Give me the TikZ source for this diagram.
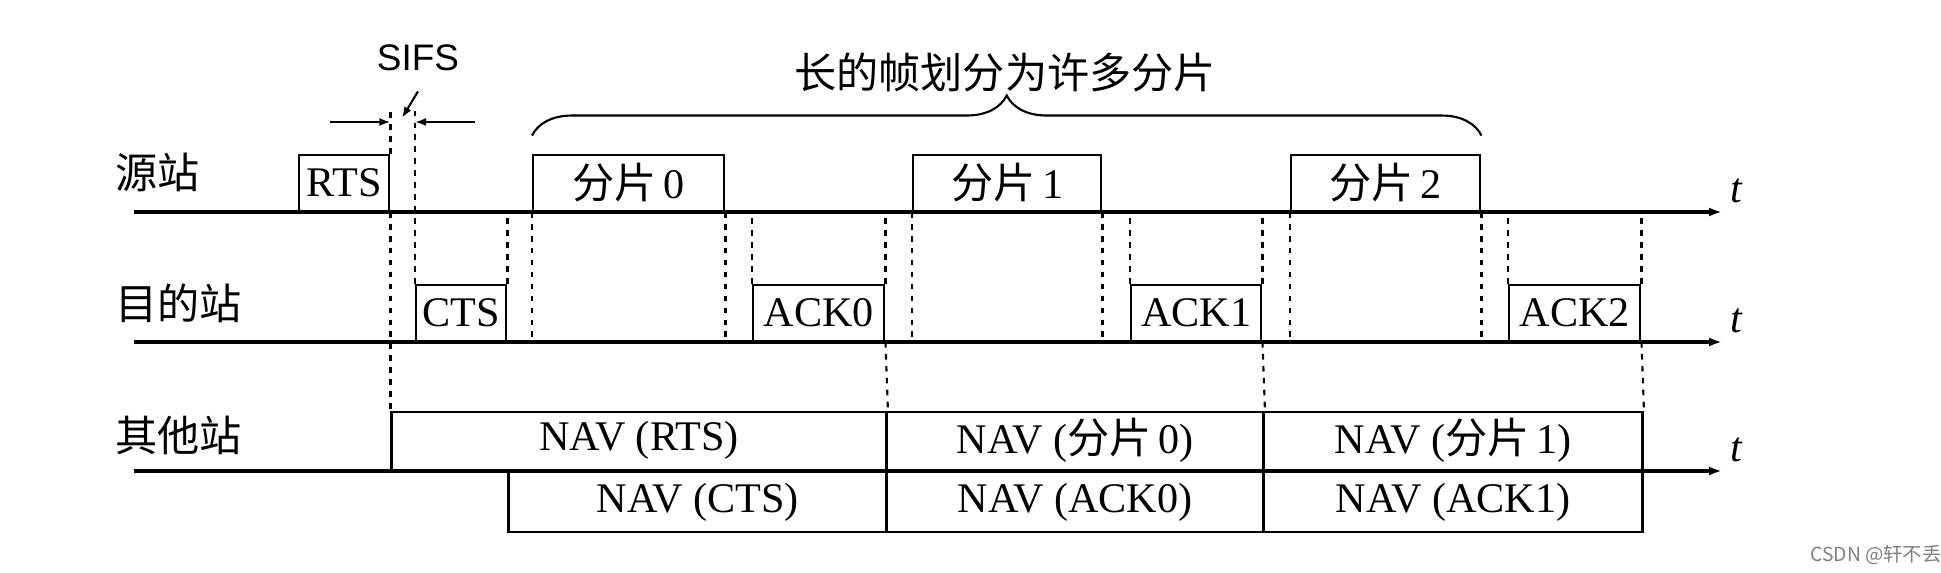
\documentclass[tikz,border=0pt]{standalone}
\usepackage{fontspec}
\setmainfont{Liberation Serif}
\newfontfamily\cjk{Noto Sans CJK SC}
\newfontfamily\sifsfont{Liberation Sans}
\usetikzlibrary{arrows.meta,calc,decorations.pathreplacing}

\tikzset{
	frame/.style={draw, line width=0.7pt, inner sep=0pt, minimum height=0.56cm, anchor=south west},
	navbox/.style={draw, line width=0.7pt, inner sep=0pt, minimum height=0.58cm},
	timeline/.style={line width=1pt, -{Latex[length=1.3mm, width=0.9mm]}},
	guide/.style={dash pattern=on 1.6pt off 1.8pt, line width=0.6pt},
	longbrace/.style={decorate, decoration={brace, amplitude=0.4cm}, line width=0.6pt},
}

\begin{document}
\begin{tikzpicture}[>={Latex[length=1.1mm, width=0.8mm]}, font=\fontsize{12}{14}\selectfont]
	\useasboundingbox (0,0) rectangle (19.41,5.73);

	% time axes
	\coordinate (s0) at (1.34,3.61);
	\coordinate (s1) at (17.22,3.61);
	\coordinate (d0) at (1.34,2.31);
	\coordinate (d1) at (17.22,2.31);
	\coordinate (o0) at (1.34,1.02);
	\coordinate (o1) at (17.22,1.02);

	\draw[timeline] (s0) -- (s1) node[above right, inner sep=2pt] (ts) {\textit{t}};
	\draw[timeline] (d0) -- (d1) node[above right, inner sep=2pt] (td) {\textit{t}};
	\draw[timeline] (o0) -- (o1) node[above right, inner sep=2pt] (to) {\textit{t}};

	\node[anchor=west] (src) at (1.03,4.01) {\cjk 源站};
	\node[anchor=west] (dst) at (1.03,2.70) {\cjk 目的站};
	\node[anchor=west] (oth) at (1.03,1.38) {\cjk 其他站};

	% source station
	\node[frame, minimum width=0.90cm] (rts) at (2.98,3.61) {RTS};
	\node[frame, minimum width=1.91cm] (frag0) at (5.32,3.61) {{\cjk 分片}\,0};
	\node[frame, minimum width=1.88cm] (frag1) at (9.12,3.61) {{\cjk 分片}\,1};
	\node[frame, minimum width=1.89cm] (frag2) at (12.90,3.61) {{\cjk 分片}\,2};

	% destination station
	\node[frame, minimum width=0.90cm] (cts) at (4.15,2.31) {CTS};
	\node[frame, minimum width=1.31cm] (ack0) at (7.52,2.31) {ACK0};
	\node[frame, minimum width=1.30cm] (ack1) at (11.30,2.31) {ACK1};
	\node[frame, minimum width=1.31cm] (ack2) at (15.08,2.31) {ACK2};

	% other stations
	\node[navbox, anchor=south west, minimum width=4.95cm] (navrts) at (rts.south east |- o0) {NAV (RTS)};
	\node[navbox, anchor=south west, minimum width=3.77cm] (navf0) at (ack0.south east |- o0) {NAV ({\cjk 分片}\,0)};
	\node[navbox, anchor=south west, minimum width=3.79cm] (navf1) at (ack1.south east |- o0) {NAV ({\cjk 分片}\,1)};
	\node[navbox, anchor=north west, minimum width=3.78cm, minimum height=0.6cm] (navcts) at (cts.south east |- o0) {NAV (CTS)};
	\node[navbox, anchor=north west, minimum width=3.77cm, minimum height=0.6cm] (navack0) at (ack0.south east |- o0) {NAV (ACK0)};
	\node[navbox, anchor=north west, minimum width=3.79cm, minimum height=0.6cm] (navack1) at (ack1.south east |- o0) {NAV (ACK1)};

	% SIFS
	\coordinate (sifstop) at (0,4.66);
	\coordinate (sifsL) at (3.30,4.51);
	\coordinate (sifsR) at (4.75,4.51);
	\coordinate (sifsmid) at (4.02,4.55);
	\node[font=\sifsfont\fontsize{10.5}{12}\selectfont] (sifs) at (4.18,5.15) {SIFS};
	\draw[->, line width=0.6pt] (sifsL) -- (sifsL -| rts.east);
	\draw[->, line width=0.6pt] (sifsR) -- (sifsR -| cts.west);
	\draw[->, line width=0.6pt] ($(sifs.south)+(0,-0.08)$) -- (sifsmid);

	% dashed guides
	\draw[guide] (rts.north east) -- (rts.north east |- sifstop);
	\draw[guide] (rts.south east) -- (navrts.north west);
	\draw[guide] (cts.north west) -- (cts.north west |- sifstop);
	\draw[guide] (cts.north east) -- (cts.north east |- s0);

	\draw[guide] (frag0.south west) -- (frag0.south west |- d0);
	\draw[guide] (frag0.south east) -- (frag0.south east |- d0);
	\draw[guide] (ack0.north west) -- (ack0.north west |- s0);
	\draw[guide] (ack0.north east) -- (ack0.north east |- s0);
	\draw[guide] (ack0.south east) -- (navrts.north east);

	\draw[guide] (frag1.south west) -- (frag1.south west |- d0);
	\draw[guide] (frag1.south east) -- (frag1.south east |- d0);
	\draw[guide] (ack1.north west) -- (ack1.north west |- s0);
	\draw[guide] (ack1.north east) -- (ack1.north east |- s0);
	\draw[guide] (ack1.south east) -- (navf0.north east);

	\draw[guide] (frag2.south west) -- (frag2.south west |- d0);
	\draw[guide] (frag2.south east) -- (frag2.south east |- d0);
	\draw[guide] (ack2.north west) -- (ack2.north west |- s0);
	\draw[guide] (ack2.north east) -- (ack2.north east |- s0);
	\draw[guide] (ack2.south east) -- (navf1.north east);

	% brace over the fragments
	\draw[longbrace] ($(frag0.north west)+(0,0.18)$) -- ($(frag2.north east)+(0,0.18)$);
	\node (longtxt) at (10.05,5.01) {\cjk 长的帧划分为许多分片};

	\node[font=\cjk\fontsize{5.5}{6}\selectfont, text=gray] (mark) at (18.76,0.18) {CSDN @轩不丢};
\end{tikzpicture}
\end{document}
